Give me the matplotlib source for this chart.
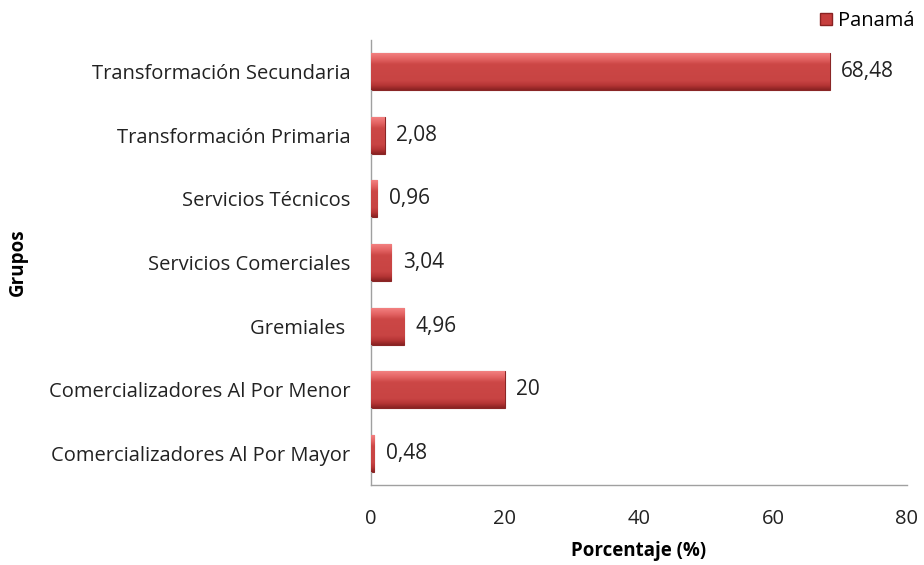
import matplotlib.pyplot as plt
import numpy as np
from matplotlib.colors import LinearSegmentedColormap
from matplotlib.patches import Patch

categorias = [
    'Comercializadores Al Por Mayor',
    'Comercializadores Al Por Menor',
    'Gremiales ',
    'Servicios Comerciales',
    'Servicios Técnicos',
    'Transformación Primaria',
    'Transformación Secundaria',
]
porcentajes = [0.48, 20, 4.96, 3.04, 0.96, 2.08, 68.48]
etiquetas = ['0,48', '20', '4,96', '3,04', '0,96', '2,08', '68,48']
x_ticks = [0, 20, 40, 60, 80]

plt.rcParams['font.family'] = ['Open Sans', 'DejaVu Sans']

fig = plt.figure(figsize=(9.24, 5.65), dpi=100)
ax = fig.add_axes([371/924, 1 - 485/565, (907-371)/924, (485-40)/565])

y = np.arange(len(categorias))
bars = ax.barh(y, porcentajes, height=0.58, color='#c63e3d', edgecolor='#8a2626',
               linewidth=0.8, zorder=2)

# bevel-like vertical gradient inside each bar
cmap = LinearSegmentedColormap.from_list('bevel', [
    (0.0, '#8a2222'), (0.12, '#b53535'), (0.25, '#c84443'),
    (0.7, '#cc4746'), (0.85, '#e46464'), (1.0, '#f28080')])
grad = np.linspace(0, 1, 64).reshape(-1, 1)
for b in bars:
    x0, y0 = b.get_x(), b.get_y()
    w, h = b.get_width(), b.get_height()
    im = ax.imshow(grad, cmap=cmap, aspect='auto', origin='lower',
                   extent=[x0, x0 + w, y0, y0 + h], zorder=3)
    im.set_clip_path(b)

for yi, v, t in zip(y, porcentajes, etiquetas):
    ax.text(v + 1.7, yi, t, va='center', ha='left', fontsize=15, color='#222222')

ax.set_xlim(0, 80)
ax.set_ylim(-0.5, len(categorias) - 0.5)
ax.set_xticks(x_ticks)
ax.set_xticklabels([str(t) for t in x_ticks])
ax.set_yticks(y)
ax.set_yticklabels(categorias)
ax.tick_params(axis='both', length=0, labelsize=14.5, colors='#222222')
ax.tick_params(axis='x', pad=17)
ax.tick_params(axis='y', pad=15)
for s in ['top', 'right']:
    ax.spines[s].set_visible(False)
for s in ['left', 'bottom']:
    ax.spines[s].set_color('#a0a0a0')
    ax.spines[s].set_linewidth(1)

ax.set_xlabel('Porcentaje (%)', fontsize=13.5, fontweight='bold', labelpad=9)
fig.text(18/924, 1 - 262/565, 'Grupos', rotation=90, fontsize=13.5,
         fontweight='bold', ha='center', va='center')

leg = fig.legend(handles=[Patch(facecolor='#c63e3d', edgecolor='#8a2222')], labels=['Panamá'],
                 loc='center right', bbox_to_anchor=(927/924, 1 - 21/565), frameon=False,
                 fontsize=14.5, handlelength=0.6, handleheight=0.6, handletextpad=0.3,
                 borderaxespad=0.2)

fig.savefig('out.png', dpi=100)
